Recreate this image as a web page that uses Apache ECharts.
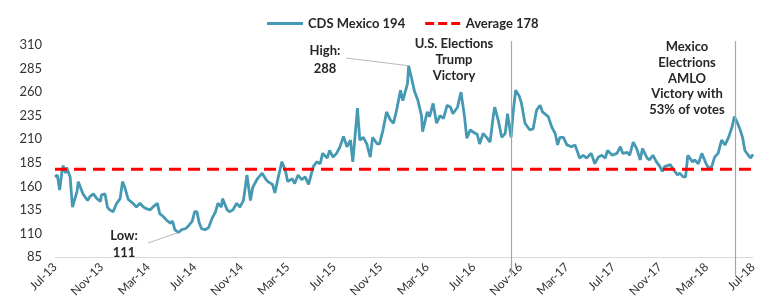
<!DOCTYPE html>
<html>
<head>
<meta charset="utf-8">
<script src="https://cdn.jsdelivr.net/npm/echarts@6/dist/echarts.min.js"></script>
<style>
  html, body { margin: 0; padding: 0; background: #fff; }
  #chart { width: 777px; height: 305px; }
</style>
</head>
<body>
<div id="chart"></div>
<script>
// x position = months since Jul-13
var xLabels = ['Jul-13', 'Nov-13', 'Mar-14', 'Jul-14', 'Nov-14', 'Mar-15', 'Jul-15', 'Nov-15',
               'Mar-16', 'Jul-16', 'Nov-16', 'Mar-17', 'Jul-17', 'Nov-17', 'Mar-18', 'Jul-18'];

var months = [
  0.0, 0.2, 0.4, 0.6, 0.7, 0.9, 1.0, 1.3, 1.5, 1.9, 2.0, 2.1, 2.4, 2.8, 3.0, 3.3, 3.6, 3.9, 4.0, 4.3,
  4.5, 4.7, 5.0, 5.3, 5.6, 5.8, 6.0, 6.3, 6.7, 7.0, 7.3, 7.6, 7.9, 8.2, 8.4, 8.8, 9.0, 9.3, 9.6, 9.9,
  10.1, 10.3, 10.6, 10.9, 11.2, 11.4, 11.8, 12.0, 12.2, 12.4, 12.6, 12.9, 13.2, 13.5, 13.8, 14.0, 14.3, 14.4, 14.8, 15.0,
  15.3, 15.6, 15.9, 16.2, 16.5, 16.8, 17.0, 17.4, 17.8, 18.1, 18.3, 18.7, 18.9, 19.2, 19.5, 19.8, 20.0, 20.4, 20.6, 20.9,
  21.2, 21.5, 21.8, 22.2, 22.5, 22.8, 23.0, 23.4, 23.6, 23.9, 24.2, 24.5, 24.8, 25.1, 25.4, 25.6, 26.0, 26.2, 26.5, 26.8,
  27.1, 27.3, 27.7, 27.9, 28.2, 28.5, 28.8, 29.1, 29.4, 29.7, 29.9, 30.3, 30.4, 30.7, 30.9, 31.2, 31.5, 31.6, 32.0, 32.2,
  32.5, 32.8, 33.1, 33.4, 33.7, 34.0, 34.2, 34.6, 34.9, 35.2, 35.4, 35.7, 35.9, 36.3, 36.5, 36.8, 37.1, 37.4, 37.7, 37.8,
  38.1, 38.4, 38.7, 38.9, 39.2, 39.4, 39.6, 39.9, 40.1, 40.4, 40.8, 41.1, 41.4, 41.7, 41.9, 42.4, 42.7, 43.0, 43.2, 43.4,
  43.7, 44.0, 44.4, 44.7, 45.1, 45.4, 45.7, 46.1, 46.4, 46.7, 47.0, 47.3, 47.5, 47.9, 48.3, 48.6, 48.8, 49.2, 49.4, 49.7,
  50.0, 50.3, 50.5, 50.9, 51.1, 51.4, 51.7, 52.0, 52.2, 52.4, 52.9, 53.1, 53.5, 53.7, 54.0, 54.2, 54.4, 54.8, 55.0, 55.3,
  55.6, 55.9, 56.1, 56.4, 56.7, 57.0, 57.3, 57.6, 57.9, 58.2, 58.4, 58.6, 58.9, 59.1, 59.3, 59.6, 59.8, 60.0
];

var cds = [
  170, 172, 156, 176, 182, 174, 180, 170, 138, 155, 165, 163, 152, 145, 149, 152, 147, 144, 151, 152,
  138, 135, 133, 142, 147, 165, 159, 146, 142, 138, 142, 138, 136, 135, 138, 142, 131, 128, 124, 121,
  123, 114, 111, 114, 115, 117, 123, 133, 133, 121, 115, 114, 116, 126, 133, 142, 138, 147, 135, 133,
  135, 142, 138, 145, 172, 145, 159, 168, 174, 168, 165, 162, 153, 170, 186, 177, 165, 168, 163, 172,
  167, 170, 162, 181, 186, 184, 195, 190, 198, 191, 195, 202, 213, 202, 209, 186, 243, 209, 212, 205,
  191, 212, 205, 205, 220, 239, 231, 227, 243, 262, 251, 269, 288, 272, 261, 251, 235, 218, 239, 234,
  248, 227, 235, 232, 246, 244, 237, 244, 260, 234, 211, 220, 218, 215, 205, 216, 212, 207, 237, 244,
  230, 212, 216, 237, 212, 241, 262, 256, 248, 227, 220, 221, 241, 246, 239, 234, 223, 216, 204, 212,
  212, 204, 202, 204, 190, 193, 190, 195, 184, 191, 193, 190, 198, 193, 195, 202, 195, 196, 193, 207,
  200, 188, 200, 190, 188, 193, 186, 181, 176, 181, 183, 179, 172, 174, 170, 170, 193, 186, 188, 184,
  195, 186, 181, 179, 191, 195, 209, 204, 212, 223, 234, 229, 220, 212, 198, 193, 190, 194
];

var average = 178;
var eventMonths = [39.2, 58.45];   // US election, Mexico election

var cdsData = months.map(function (m, i) { return [m, cds[i]]; });
var avgData = [[0, average], [60, average]];

var chart = echarts.init(document.getElementById('chart'));
var font = 'Lato, "Open Sans", sans-serif';

chart.setOption({
  animation: false,
  textStyle: { fontFamily: font },
  legend: {
    left: 262,
    top: 12,
    itemWidth: 36,
    itemHeight: 3,
    itemGap: 20,
    textStyle: { fontSize: 13, fontWeight: 'bold', color: '#262626', fontFamily: font },
    data: [
      { name: 'CDS Mexico 194', icon: 'path://M0,0H36V3H0Z' },
      { name: 'Average 178', icon: 'path://M0,0H9V3H0ZM13,0H22V3H13ZM26,0H35V3H26Z' }
    ]
  },
  grid: { left: 55, right: 24, top: 45, bottom: 48, containLabel: false, outerBoundsMode: 'none' },
  xAxis: {
    type: 'value',
    min: 0,
    max: 60,
    interval: 4,
    splitLine: { show: false },
    axisTick: { show: false },
    axisLine: { show: true, lineStyle: { color: '#d9d9d9', width: 1 } },
    axisLabel: {
      rotate: 45,
      margin: 8,
      fontSize: 12,
      color: '#333',
      formatter: function (v) { return xLabels[v / 4]; }
    }
  },
  yAxis: {
    type: 'value',
    min: 85,
    max: 310,
    interval: 25,
    splitLine: { show: false },
    axisTick: { show: false },
    axisLine: { show: false },
    axisLabel: { fontSize: 13, color: '#333', margin: 13 }
  },
  series: [
    {
      name: 'CDS Mexico 194',
      type: 'line',
      data: cdsData,
      symbol: 'none',
      color: '#4599b3',
      lineStyle: { width: 2.8, color: '#4599b3' },
      z: 3
    },
    {
      name: 'Average 178',
      type: 'line',
      data: avgData,
      symbol: 'none',
      color: '#ff0000',
      lineStyle: { width: 3, type: [12, 7], color: '#ff0000' },
      z: 4
    }
  ]
});

// annotations
var hi = cds.indexOf(Math.max.apply(null, cds));
var lo = cds.indexOf(Math.min.apply(null, cds));
var hiPt = chart.convertToPixel({ gridIndex: 0 }, [months[hi], cds[hi]]);
var loPt = chart.convertToPixel({ gridIndex: 0 }, [months[lo], cds[lo]]);

var graphics = [];
eventMonths.forEach(function (m) {
  var x = Math.round(chart.convertToPixel({ gridIndex: 0 }, [m, average])[0]) + 0.5;
  graphics.push({
    type: 'line', shape: { x1: x, y1: 41, x2: x, y2: 275 },
    style: { stroke: '#a6a6a6', lineWidth: 1.2 }, z: 10
  });
});
graphics.push({
  type: 'line', shape: { x1: 346, y1: 58, x2: hiPt[0], y2: hiPt[1] },
  style: { stroke: '#a6a6a6', lineWidth: 0.8 }, z: 10
});
graphics.push({
  type: 'line', shape: { x1: 148, y1: 243, x2: loPt[0], y2: loPt[1] },
  style: { stroke: '#a6a6a6', lineWidth: 0.8 }, z: 10
});

function note(x, y, txt, lh) {
  return {
    type: 'text', x: x, y: y, z: 11,
    style: {
      text: txt, align: 'center', verticalAlign: 'top',
      font: 'bold 13px ' + font, fill: '#262626', lineHeight: lh
    }
  };
}
graphics.push(note(325, 42, 'High:\n' + cds[hi], 18));
graphics.push(note(124, 227, 'Low:\n' + cds[lo], 17));
graphics.push(note(454, 36, 'U.S. Elections\nTrump\nVictory', 16));
graphics.push(note(687, 39, 'Mexico\nElectrions\nAMLO\nVictory with\n53% of votes', 15.8));

chart.setOption({ graphic: graphics });
</script>
</body>
</html>
